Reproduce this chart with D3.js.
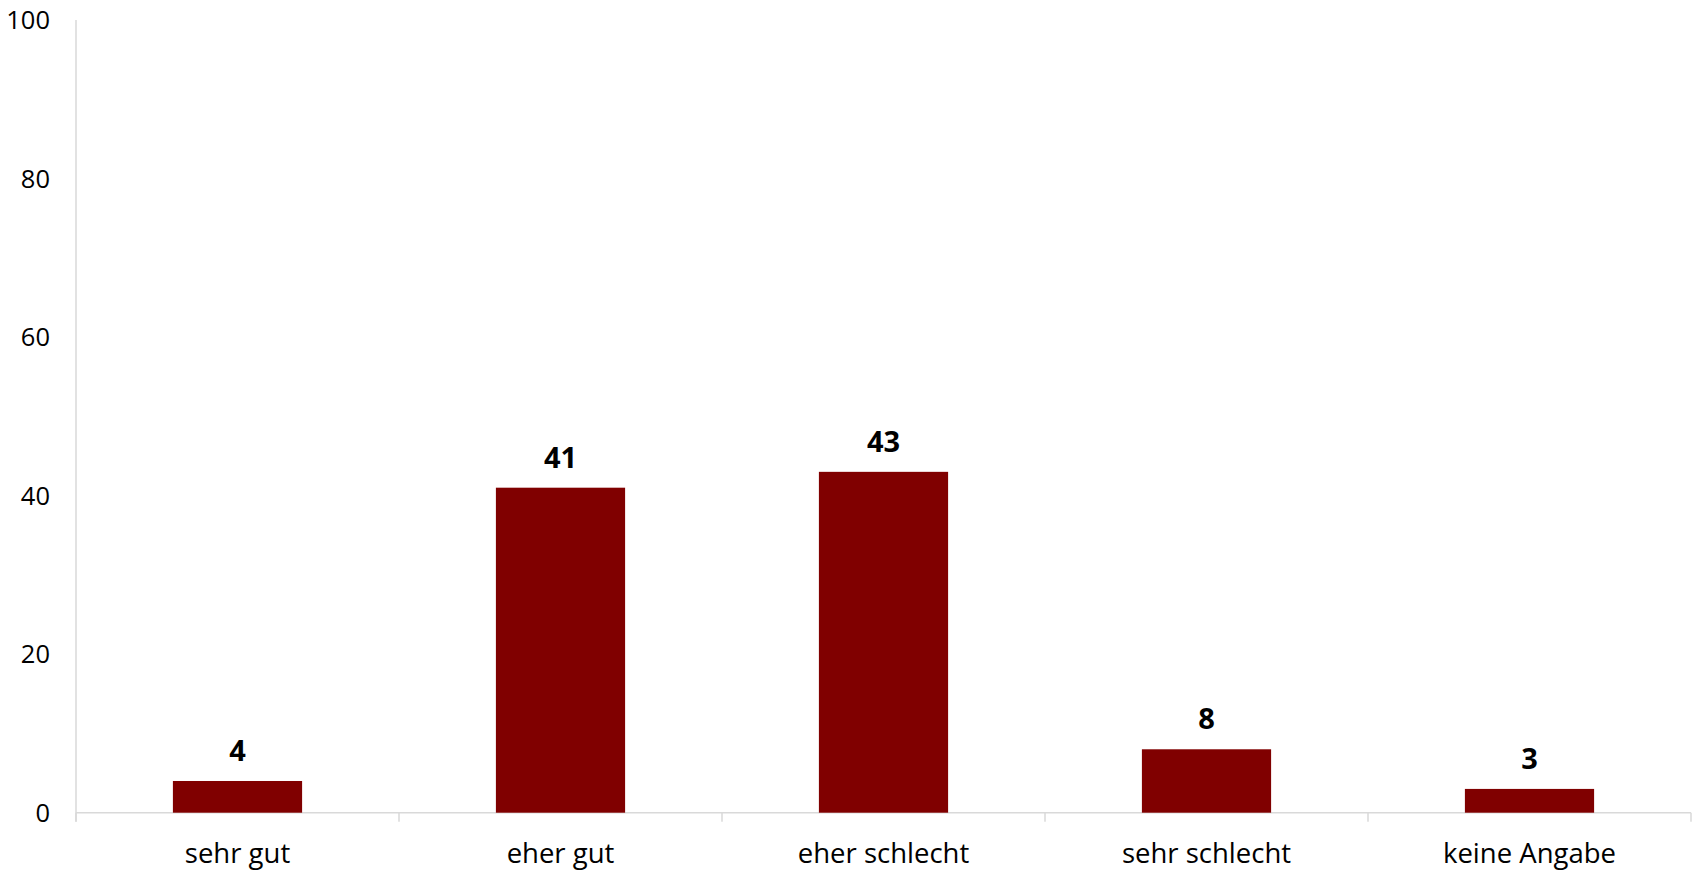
<!DOCTYPE html>
<html><head><meta charset="utf-8">
<script src="https://cdn.jsdelivr.net/npm/d3@7"></script>
<style>body{margin:0;background:#fff}svg{display:block}text{font-family:"Open Sans",sans-serif}</style>
</head><body>
<svg id="c" width="1694" height="870"></svg>
<script>
const categories = ["sehr gut","eher gut","eher schlecht","sehr schlecht","keine Angabe"];
const values = [4,41,43,8,3];
const yTicks = [0,20,40,60,80,100];

const svg = d3.select("#c");
const L=76, R=1691, T=20, B=812.7;
const x = d3.scaleBand().domain(categories).range([L,R]).paddingInner(0.6).paddingOuter(0.3);
const xb = d3.scaleBand().domain(categories).range([L,R]).padding(0);
const y = d3.scaleLinear().domain([0,100]).range([B,T]);
const grey="#d9d9d9";

svg.append("line").attr("x1",L).attr("x2",L).attr("y1",T).attr("y2",B+9).attr("stroke",grey).attr("stroke-width",1.5);
svg.append("line").attr("x1",L).attr("x2",R).attr("y1",B).attr("y2",B).attr("stroke",grey).attr("stroke-width",1.5);
const bounds = categories.map(c=>xb(c)).concat([R]);
svg.selectAll(".xt").data(bounds).join("line").attr("x1",d=>d).attr("x2",d=>d).attr("y1",B).attr("y2",B+9).attr("stroke",grey).attr("stroke-width",1.5);

svg.selectAll(".yl").data(yTicks).join("text").attr("x",50).attr("y",d=>y(d)).attr("dy","0.36em")
  .attr("text-anchor","end").attr("font-size",25.5).attr("fill","#000").text(d=>d);

svg.selectAll(".bar").data(values).join("rect")
  .attr("x",(d,i)=>x(categories[i])).attr("width",x.bandwidth())
  .attr("y",d=>y(d)).attr("height",d=>B-y(d)).attr("fill","#800000");

svg.selectAll(".vl").data(values).join("text")
  .attr("x",(d,i)=>x(categories[i])+x.bandwidth()/2).attr("y",d=>y(d)-20)
  .attr("text-anchor","middle").attr("font-size",29).attr("font-weight","bold").attr("fill","#000").text(d=>d);

svg.selectAll(".cl").data(categories).join("text")
  .attr("x",d=>xb(d)+xb.bandwidth()/2).attr("y",863)
  .attr("text-anchor","middle").attr("font-size",27.5).attr("fill","#000").text(d=>d);
</script>
</body></html>
